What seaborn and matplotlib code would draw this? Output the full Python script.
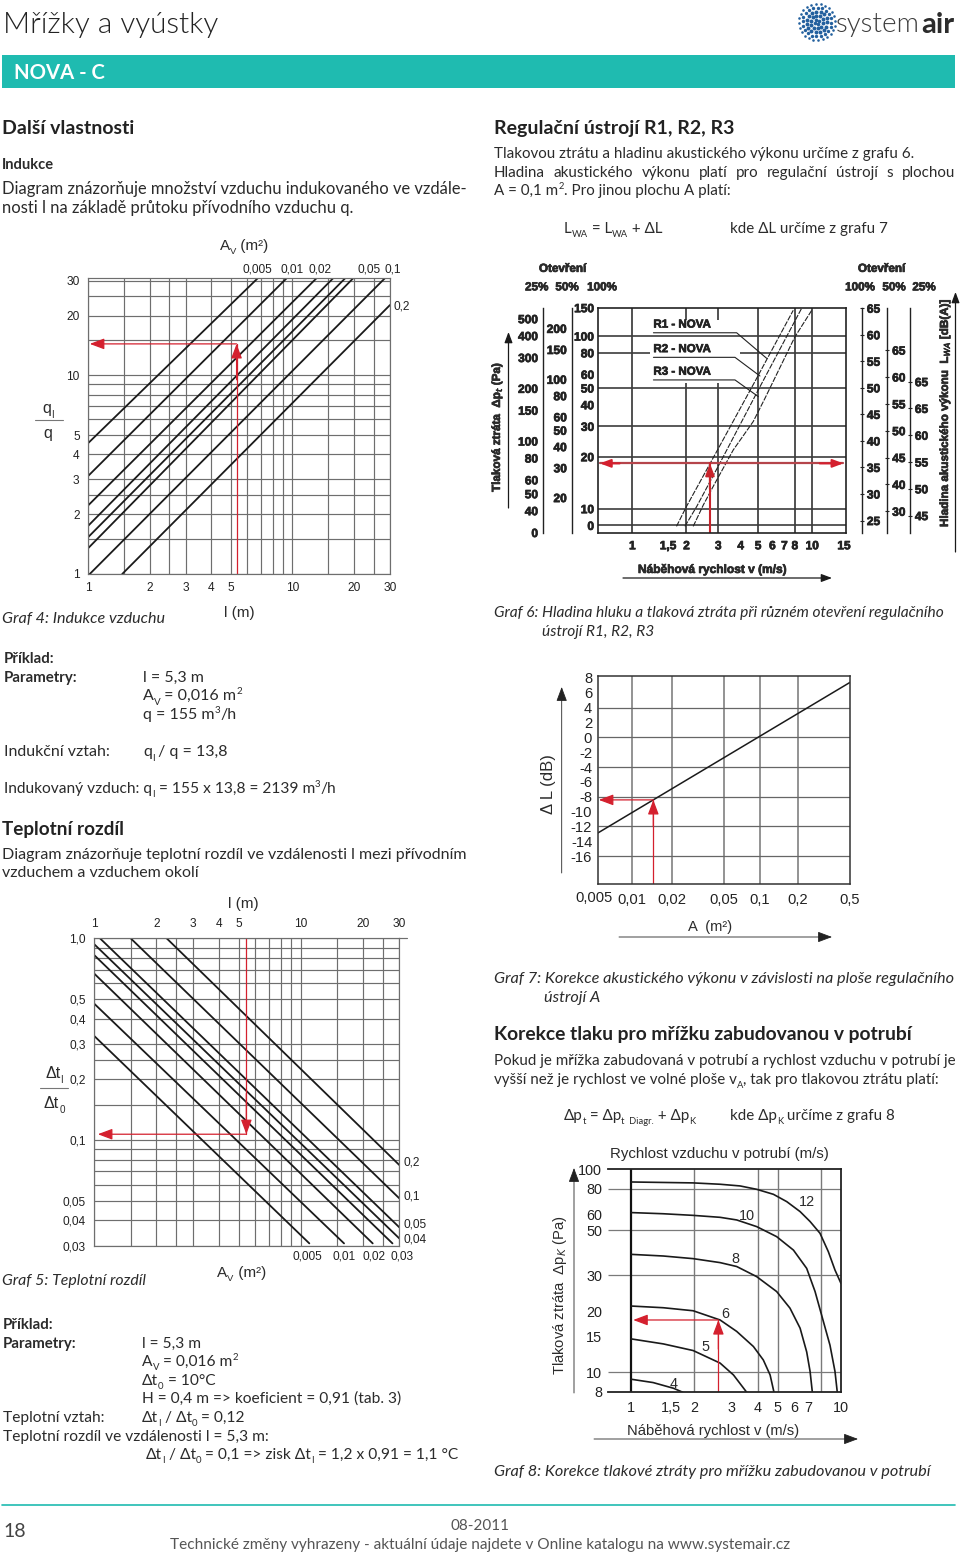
import numpy as np
import pandas as pd
import matplotlib
matplotlib.use("Agg")
import matplotlib.pyplot as plt
from matplotlib.ticker import NullFormatter, FixedLocator
from matplotlib.patches import Rectangle
import matplotlib.patheffects as pe
import seaborn as sns

sns.set_theme(style="white")
plt.rcParams["font.family"] = ["Lato", "DejaVu Sans"]
CH = ["Liberation Sans", "DejaVu Sans"]
RED = "#d4202e"
TEAL = "#1fbbb0"
TXT = "#2b2b2b"

# ---------- Graf 4 ----------
g4_x_grid = [1, 1.5, 2, 2.5, 3, 4, 5, 6, 7, 8, 9, 10, 15, 20, 25, 30]
g4_y_grid = [1, 1.5, 2, 2.5, 3, 4, 5, 6, 7, 8, 9, 10, 15, 20, 25, 30]
g4_ticks = [1, 2, 3, 4, 5, 10, 20, 30]
g4_lines = {
    "0,005": ([1, 6.76], [4.55, 30.8]),
    "0,01": ([1, 9.36], [3.11, 30.8]),
    "0,02": ([1, 13.1], [2.21, 30.8]),
    "0,03": ([1, 15.8], [1.745, 30.8]),
    "0,04": ([1, 18.1], [1.53, 30.8]),
    "0,05": ([1, 19.8], [1.346, 30.8]),
    "0,1": ([1.02, 28.3], [1, 30.8]),
    "0,2": ([1.47, 30], [1, 22.6]),
}
g4_read_x, g4_read_y = 5.33, 14.4

# ---------- Graf 5 ----------
g5_x_grid = [1, 1.5, 2, 2.5, 3, 4, 5, 6, 7, 8, 9, 10, 15, 20, 25, 30]
g5_y_grid = [1, .9, .8, .7, .6, .5, .4, .3, .25, .2, .15, .1, .09, .08, .07, .06, .05, .04, .03]
g5_x_ticks = [1, 2, 3, 4, 5, 10, 20, 30]
g5_y_ticks = [1, .5, .4, .3, .2, .1, .05, .04, .03]
g5_y_labels = ["1,0", "0,5", "0,4", "0,3", "0,2", "0,1", "0,05", "0,04", "0,03"]
g5_lines = {
    "0,005": ([1, 11.0], [.328, .0308]),
    "0,01": ([1, 16.2], [.474, .0308]),
    "0,02": ([1, 22.3], [.668, .0308]),
    "0,03": ([1, 27.8], [.825, .0308]),
    "0,04": ([1, 30], [.934, .0326]),
    "0,05": ([1.065, 30], [1, .037]),
    "0,1": ([1.5, 30], [1, .0515]),
    "0,2": ([2.24, 30], [1, .0753]),
}
g5_read_x, g5_read_y = 5.45, .107

# ---------- Graf 6 ----------
g6_x_ticks = [1, 1.58, 2, 3, 4, 5, 6, 7, 8, 10, 15]
g6_x_labels = ["1", "1,5", "2", "3", "4", "5", "6", "7", "8", "10", "15"]
g6_main_ticks = [146, 100, 80, 60, 50, 40, 30, 20, 10, 8]
g6_main_labels = ["150", "100", "80", "60", "50", "40", "30", "20", "10", "0"]
g6_s1_ticks = [500, 400, 300, 200, 150, 100, 80, 60, 50, 40, 30]
g6_s1_labels = ["500", "400", "300", "200", "150", "100", "80", "60", "50", "40", "0"]
g6_s2_ticks = [200, 150, 100, 80, 60, 50, 40, 30, 20]
g6_r1_ticks = [65, 60, 55, 50, 45, 40, 35, 30, 25]
g6_r2_ticks = [65, 60, 55, 50, 45, 40, 35]
g6_r2_labels = ["65", "60", "55", "50", "45", "40", "30"]
g6_r3_ticks = [70, 65, 60, 55, 50, 45]
g6_r3_labels = ["65", "65", "60", "55", "50", "45"]
g6_curves = {
    "R1": ([1.76, 2.00, 2.94, 4.80, 7.84], [7.9, 10.3, 21.4, 54.5, 141]),
    "R2": ([1.96, 2.28, 3.07, 5.01, 8.72], [7.9, 10.3, 18.4, 48.7, 144.6]),
    "R3": ([2.18, 2.48, 2.82, 3.64, 4.70, 5.46, 8.01, 10], [7.9, 10.5, 13.5, 21.9, 32, 43.6, 99, 142.6]),
}
g6_leaders = {
    "R1 - NOVA": ([1.31, 3.80, 5.58], [104.5, 104.5, 74.3]),
    "R2 - NOVA": ([1.31, 3.72, 5.12], [75.3, 75.3, 58.7]),
    "R3 - NOVA": ([1.31, 3.72, 5.01], [55.7, 55.7, 44.6]),
}
g6_read_x, g6_read_y = 2.70, 18.3

# ---------- Graf 7 ----------
g7_x_grid = [.005, .0093, .0193, .05, .0967, .192, .5]
g7_x_labels = ["", "0,01", "0,02", "0,05", "0,1", "0,2", "0,5"]
g7_y_ticks = [8, 6, 4, 2, 0, -2, -4, -6, -8, -10, -12, -14, -16]
g7_y_grid = [4, 0, -4, -8, -12, -16]
g7_line_x = [.005, .5]
g7_line_y = [-12.9, 7.4]
g7_read_x, g7_read_y = .0138, -8.43

# ---------- Graf 8 ----------
g8_x_ticks = [1, 1.55, 2, 3, 4, 5, 6, 7, 10]
g8_x_labels = ["1", "1,5", "2", "3", "4", "5", "6", "7", "10"]
g8_y_ticks = [100, 80, 60, 50, 30, 20, 15, 10, 8]
g8_x_grid = [2, 4, 5, 8]
g8_y_grid = [80, 50, 30, 10]
g8_curves = {
    "12": ([1, 1.97, 2.65, 3.30, 3.96, 4.76, 5.51, 6.38, 7.12, 7.94, 8.70, 9.36, 10],
           [86.6, 85.7, 84.4, 82.8, 79.7, 75.3, 69.3, 61.9, 55.3, 48.4, 39.3, 31.9, 27.4]),
    "10": ([1, 1.42, 1.97, 2.65, 3.18, 3.96, 4.93, 5.93, 6.86, 7.52, 8.24, 8.86, 9.36, 9.60],
           [61.2, 60.4, 59.3, 58.0, 56.3, 52.2, 46.6, 40.0, 32.5, 25.0, 17.8, 13.6, 10.1, 7.97]),
    "8": ([1, 1.42, 1.97, 2.65, 3.18, 3.96, 4.93, 5.71, 6.38, 6.86, 7.12, 7.30],
          [38.1, 37.4, 36.3, 34.7, 33.2, 29.6, 25.0, 20.7, 16.5, 12.6, 10.1, 7.97]),
    "6": ([1, 1.42, 1.97, 2.65, 3.18, 3.82, 4.26, 4.59, 4.79],
          [21.2, 20.8, 20.1, 18.1, 15.9, 13.4, 11.5, 9.70, 7.97]),
    "5": ([1, 1.42, 1.97, 2.65, 3.07, 3.55], [14.6, 13.8, 12.8, 11.1, 9.70, 7.97]),
    "4": ([1, 1.27, 1.59, 1.76], [9.24, 8.9, 8.34, 7.97]),
}
g8_read_x, g8_read_y = 2.6, 18.1

W, H = 960, 1553
fig = plt.figure(figsize=(W / 100, H / 100), dpi=100, facecolor="white")
bg = fig.add_axes([0, 0, 1, 1], zorder=0)
bg.set_xlim(0, W)
bg.set_ylim(H, 0)
bg.axis("off")
renderer = fig.canvas.get_renderer()
HEAVY = [pe.withStroke(linewidth=.5, foreground="#222222")]


def mk(l, t, r, b):
    a = fig.add_axes([l / W, 1 - b / H, (r - l) / W, (b - t) / H], zorder=2)
    a.patch.set_alpha(0)
    return a


def T(x, y, s, size=10, color=TXT, ha="left", family=None, **kw):
    return bg.text(x, y + size * 100 / 72 * .33, s, fontsize=size, color=color, ha=ha, va="baseline",
                   family=family or ["Lato", "DejaVu Sans"], **kw)


def rich(x, y, parts, size=10, color=TXT, family=None, **kw):
    for p in parts:
        s, mode = (p, None) if isinstance(p, str) else p
        fs = size * .62 if mode else size
        base = y + size * 100 / 72 * .33
        if mode == "sub":
            base += size * .38
        if mode == "sup":
            base -= size * .55
        t = bg.text(x, base, s, fontsize=fs, color=color, ha="left", va="baseline",
                    family=family or ["Lato", "DejaVu Sans"], **kw)
        x += t.get_window_extent(renderer).width


def justified(x0, x1, y, s, size=10, **kw):
    words = s.split(" ")
    arts = [T(x0, y, w, size, **kw) for w in words]
    ws = [a.get_window_extent(renderer).width for a in arts]
    gap = (x1 - x0 - sum(ws)) / (len(words) - 1)
    x = x0
    for a, w in zip(arts, ws):
        a.set_x(x)
        x += w + gap


def arrow(a, start, end, color="k", lw=1.0, ms=9):
    a.annotate("", xy=end, xytext=start, annotation_clip=False,
               arrowprops=dict(arrowstyle="-|>,head_length=0.8,head_width=0.3", color=color, lw=lw,
                               mutation_scale=ms, shrinkA=0, shrinkB=0))


def draw(a, x, y, color="k", lw=1.3, **kw):
    sns.lineplot(x=x, y=y, ax=a, color=color, linewidth=lw, estimator=None, sort=False, legend=False, **kw)
    a.set_xlabel("")
    a.set_ylabel("")


def log_axes(a, xlim, ylim):
    a.set_xscale("log")
    a.set_yscale("log")
    a.set_xlim(*xlim)
    a.set_ylim(*ylim)
    a.xaxis.set_minor_formatter(NullFormatter())
    a.yaxis.set_minor_formatter(NullFormatter())


def gridded(a, xg, yg, color="#6e6e6e", lw=.85):
    a.xaxis.set_minor_locator(FixedLocator(xg))
    a.yaxis.set_minor_locator(FixedLocator(yg))
    a.grid(True, which="both", color=color, linewidth=lw)
    a.tick_params(which="minor", length=0)
    a.set_axisbelow(True)


# ========== page furniture ==========
B = 10.9   # right column body size
L = 11.5   # left column body size
T(3, 23, "Mřížky a vyústky", 21.4, weight=300, color="#222222")
logo_r = [2.5, 6.5, 10.5, 14.5, 18]
logo_n = [4, 10, 15, 20, 24]
logo_s = [7, 8, 8, 6, 3.5]
for r, n, s_ in zip(logo_r, logo_n, logo_s):
    ang = np.linspace(0, 2 * np.pi, n, endpoint=False) + r
    bg.scatter(817 + r * np.cos(ang), 22 + r * np.sin(ang), s=s_, color="#23609e", linewidths=0)
rich(836, 23, ["system"], 20, color="#3c3c3c", weight=300)
T(921, 23, "air", 21, color="#2c2c2c", weight="bold")

bg.add_patch(Rectangle((2, 55), 953, 33, color=TEAL, lw=0))
T(14, 72, "NOVA - C", 14.6, color="white", weight="bold")

T(2, 128, "Další vlastnosti", 14, weight="bold", color="#222222")
T(2, 164, "Indukce", 10.5, weight="bold")
T(2, 189, "Diagram znázorňuje množství vzduchu indukovaného ve vzdále-", 11.9)
T(2, 208, "nosti l na základě průtoku přívodního vzduchu q.", 11.9)

T(494, 128, "Regulační ústrojí R1, R2, R3", 14, weight="bold", color="#222222")
T(494, 153, "Tlakovou ztrátu a hladinu akustického výkonu určíme z grafu 6.", B)
justified(494, 955, 172, "Hladina akustického výkonu platí pro regulační ústrojí s plochou", B)
rich(494, 190, ["A = 0,1 m", ("2", "sup"), ". Pro jinou plochu A platí:"], B)
rich(564, 228, ["L", ("WA", "sub"), " = L", ("WA", "sub"), " + ΔL"], B)
T(730, 228, "kde ΔL určíme z grafu 7", B)

T(2, 618, "Graf 4: Indukce vzduchu", 11.6, style="italic")
T(494, 612, "Graf 6: Hladina hluku a tlaková ztráta při různém otevření regulačního", 11.2, style="italic")
T(542, 631, "ústrojí R1, R2, R3", 11.2, style="italic")

T(4, 658, "Příklad:", 10.8, weight="bold")
T(4, 677, "Parametry:", 10.8, weight="bold")
T(143, 677, "l = 5,3 m", L)
rich(143, 695, ["A", ("V", "sub"), " = 0,016 m", ("2", "sup")], L)
rich(143, 714, ["q = 155 m", ("3", "sup"), "/h"], L)
T(4, 751, "Indukční vztah:", L)
rich(143, 751, ["q", ("I", "sub"), " / q = 13,8"], L)
rich(4, 788, ["Indukovaný vzduch: q", ("I", "sub"), " = 155 x 13,8 = 2139 m", ("3", "sup"), "/h"], 11.2)

T(2, 829, "Teplotní rozdíl", 13.6, weight="bold", color="#222222")
T(2, 854, "Diagram znázorňuje teplotní rozdíl ve vzdálenosti l mezi přívodním", L)
T(2, 872, "vzduchem a vzduchem okolí", L)
T(2, 1280, "Graf 5: Teplotní rozdíl", 11.4, style="italic")

T(3, 1324, "Příklad:", 10.8, weight="bold")
T(3, 1343, "Parametry:", 10.8, weight="bold")
T(142, 1343, "l = 5,3 m", 11.2)
rich(142, 1361, ["A", ("V", "sub"), " = 0,016 m", ("2", "sup")], 11.2)
rich(142, 1380, ["Δt", ("0", "sub"), " = 10°C"], 11.2)
T(142, 1398, "H = 0,4 m => koeficient = 0,91 (tab. 3)", 11.2)
T(3, 1417, "Teplotní vztah:", 11.2)
rich(142, 1417, ["Δt", ("I", "sub"), " / Δt", ("0", "sub"), " = 0,12"], 11.2)
T(3, 1436, "Teplotní rozdíl ve vzdálenosti l = 5,3 m:", 11.2)
rich(146, 1454, ["Δt", ("I", "sub"), " / Δt", ("0", "sub"), " = 0,1 => zisk Δt", ("I", "sub"), " = 1,2 x 0,91 = 1,1 °C"], 11.2)

T(494, 978, "Graf 7: Korekce akustického výkonu v závislosti na ploše regulačního", 11.7, style="italic")
T(544, 997, "ústrojí A", 11.7, style="italic")
T(494, 1034, "Korekce tlaku pro mřížku zabudovanou v potrubí", 13.9, weight="bold", color="#222222")
T(494, 1060, "Pokud je mřížka zabudovaná v potrubí a rychlost vzduchu v potrubí je", B)
rich(494, 1079, ["vyšší než je rychlost ve volné ploše v", ("A", "sub"), ", tak pro tlakovou ztrátu platí:"], B)
rich(564, 1115, ["Δp", ("t", "sub"), " = Δp", ("t  Diagr.", "sub"), " + Δp", ("K", "sub")], B)
rich(730, 1115, ["kde Δp", ("K", "sub"), " určíme z grafu 8"], B)
T(494, 1471, "Graf 8: Korekce tlakové ztráty pro mřížku zabudovanou v potrubí", 11.7, style="italic")

bg.plot([2, 955], [1505, 1505], color=TEAL, lw=1.2)
T(3, 1531, "18", 14, color="#444444")
T(480, 1525, "08-2011", 11, ha="center", color="#555555")
T(480, 1544, "Technické změny vyhrazeny - aktuální údaje najdete v Online katalogu na www.systemair.cz", 11.1,
  ha="center", color="#555555")

# ========== Graf 4 ==========
sz = 8.6
a4 = mk(88, 278.3, 390, 574)
log_axes(a4, (1, 30), (1, 30.8))
a4.set_xticks(g4_ticks, [str(v) for v in g4_ticks], family=CH, fontsize=sz)
a4.set_yticks(g4_ticks, [str(v) for v in g4_ticks], family=CH, fontsize=sz)
gridded(a4, g4_x_grid, g4_y_grid)
a4.tick_params(which="major", length=0, pad=6, colors="#222222")
for s in a4.spines.values():
    s.set_color("#6e6e6e")
    s.set_linewidth(.85)
for k, (x, y) in g4_lines.items():
    draw(a4, x, y)
draw(a4, [g4_read_x, g4_read_x], [1, g4_read_y], color=RED, lw=.9)
arrow(a4, (g4_read_x, 9.5), (g4_read_x, g4_read_y), RED, 0.9, 11)
arrow(a4, (g4_read_x, g4_read_y), (1.02, g4_read_y), RED, 0.9, 11)

for x, s in zip([257.7, 292, 320, 369, 393], ["0,005", "0,01", "0,02", "0,05", "0,1"]):
    T(x, 268.5, s, sz, ha="center", family=CH, color="#222222")
T(393, 306, "0,2", sz, family=CH, color="#222222")
rich(220, 245, ["A", ("V", "sub"), " (m²)"], 11, family=CH)
T(239, 612, "l (m)", 11, ha="center", family=CH)
rich(42, 408, ["q", ("I", "sub")], 11.5, family=CH)
bg.plot([35, 63], [420, 420], color="#777777", lw=.8)
T(48, 433, "q", 11.5, ha="center", family=CH)

# ========== Graf 5 ==========
a5 = mk(94.3, 938.3, 399.3, 1245.7)
log_axes(a5, (1, 30), (.0308, 1))
a5.xaxis.tick_top()
a5.set_xticks(g5_x_ticks, [str(v) for v in g5_x_ticks], family=CH, fontsize=sz)
a5.set_yticks(g5_y_ticks, g5_y_labels, family=CH, fontsize=sz)
gridded(a5, g5_x_grid, g5_y_grid)
a5.tick_params(which="major", length=0, pad=6, colors="#222222")
for s in a5.spines.values():
    s.set_color("#6e6e6e")
    s.set_linewidth(.85)
for k, (x, y) in g5_lines.items():
    draw(a5, x, y)
draw(a5, [g5_read_x, g5_read_x], [1, g5_read_y], color=RED, lw=.9)
arrow(a5, (g5_read_x, .17), (g5_read_x, g5_read_y), RED, 0.9, 11)
arrow(a5, (g5_read_x, g5_read_y), (1.04, g5_read_y), RED, 0.9, 11)
bg.plot([399, 407], [938.3, 938.3], color="#6e6e6e", lw=.85)
for x, s in zip([307.7, 344, 374, 402], ["0,005", "0,01", "0,02", "0,03"]):
    T(x, 1256, s, sz, ha="center", family=CH, color="#222222")
for y, s in zip([1162, 1196, 1224, 1239], ["0,2", "0,1", "0,05", "0,04"]):
    T(404, y, s, sz, family=CH, color="#222222")
T(243, 903, "l (m)", 11, ha="center", family=CH)
rich(217, 1272, ["A", ("V", "sub"), " (m²)"], 11, family=CH)
rich(45, 1073, ["Δt", ("I", "sub")], 11.5, family=CH)
bg.plot([40, 68], [1087.7, 1087.7], color="#777777", lw=.8)
rich(44, 1103, ["Δt", ("0", "sub")], 11.5, family=CH)

# ========== Graf 6 ==========
t6, b6 = 307.7, 533.3
DK = "#222222"
a6 = mk(598.3, t6, 846, b6)
log_axes(a6, (.647, 15.4), (7.2, 146))
a6.set_xticks(g6_x_ticks, g6_x_labels, family=CH, fontsize=8.6, fontweight="bold")
a6.set_yticks(g6_main_ticks, g6_main_labels, family=CH, fontsize=8.6, fontweight="bold")
a6.xaxis.set_minor_locator(FixedLocator([]))
a6.yaxis.set_minor_locator(FixedLocator([90, 70, 15, 9]))
a6.tick_params(which="major", axis="x", length=0, pad=5, colors=DK)
a6.tick_params(which="major", axis="y", length=0, pad=3, colors=DK)
a6.tick_params(which="minor", axis="y", length=2, width=.8, color=DK)
for lab in a6.get_xticklabels() + a6.get_yticklabels():
    lab.set_path_effects(HEAVY)
a6.grid(False)
for s in a6.spines.values():
    s.set_color(DK)
    s.set_linewidth(1.2)
a6.vlines([1, 5, 8, 10], 7.2, 146, color=DK, lw=1.1)
a6.vlines([2, 3], 7.2, 53.3, color=DK, lw=1.1)
a6.vlines([2, 3], 124, 146, color=DK, lw=1.1)
a6.hlines([100, 50, 30, 20, 10, 8], .647, 15.4, color="#3c3c3c", lw=1.2)
a6.hlines([80], .647, 1.25, color="#3c3c3c", lw=1.2)
a6.hlines([80], 3.96, 15.4, color="#3c3c3c", lw=1.2)
for k, (x, y) in g6_curves.items():
    draw(a6, x, y, color=DK, lw=.8, linestyle=(0, (5, 1.2)))
for k, (x, y) in g6_leaders.items():
    draw(a6, x, y, color=DK, lw=.8)
    a6.text(x[0], y[0] * 1.03, k, family=CH, fontsize=8.3, fontweight="bold", color=DK, va="bottom",
            path_effects=HEAVY)
draw(a6, [.66, 14.9], [g6_read_y, g6_read_y], color="#b5454b", lw=1.6)
draw(a6, [g6_read_x, g6_read_x], [7.2, g6_read_y], color="#c8242c", lw=1.5)
arrow(a6, (g6_read_x, 13), (g6_read_x, g6_read_y), "#c8242c", 1.5, 9)
arrow(a6, (.85, g6_read_y), (.66, g6_read_y), "#d4202e", 1.5, 8)
arrow(a6, (11, g6_read_y), (14.9, g6_read_y), "#d4202e", 1.5, 8)


def scale(x, ticks, labels, ylim, log=False, right=False):
    s = mk(x, t6, x + 1, b6)
    if log:
        s.set_yscale("log")
    s.set_ylim(*ylim)
    s.set_xticks([])
    s.yaxis.set_minor_formatter(NullFormatter())
    s.yaxis.set_minor_locator(FixedLocator([]))
    for k, sp in s.spines.items():
        sp.set_visible(k == ("right" if right else "left"))
        sp.set_color(DK)
        sp.set_linewidth(1.0)
    if right:
        s.yaxis.tick_right()
    s.set_yticks(ticks, labels, family=CH, fontsize=8.6, fontweight="bold")
    s.tick_params(axis="y", direction="inout", length=3, width=.8, pad=2, colors=DK)
    for lab in s.get_yticklabels():
        lab.set_path_effects(HEAVY)
    s.grid(False)


scale(543, g6_s1_ticks, g6_s1_labels, (29.7, 578), log=True)
scale(571.7, g6_s2_ticks, [str(v) for v in g6_s2_ticks], (12.3, 265), log=True)
scale(861, g6_r1_ticks, [str(v) for v in g6_r1_ticks], (22.6, 65.1), right=True)
scale(886.3, g6_r2_ticks, g6_r2_labels, (30.9, 72.9), right=True)
scale(909, g6_r3_ticks, g6_r3_labels, (41.7, 83.8), right=True)

for x, s in zip([562.7, 881.7], ["Otevření", "Otevření"]):
    T(x, 268, s, 8.4, ha="center", family=CH, weight="bold", path_effects=HEAVY)
for x, s in zip([536.7, 567, 602, 860, 894, 924], ["25%", "50%", "100%", "100%", "50%", "25%"]):
    T(x, 286.5, s, 8.4, ha="center", family=CH, weight="bold", path_effects=HEAVY)
T(712, 569, "Náběhová rychlost v (m/s)", 8.6, ha="center", family=CH, weight="bold", path_effects=HEAVY)
arrow(bg, (623, 578), (832, 578), "k", .9, 8)
arrow(bg, (508.5, 508), (508.5, 332), "k", .9, 8)
arrow(bg, (955.5, 552), (955.5, 292), "k", .9, 8)
bg.text(497, 427, "Tlaková ztráta  Δp$_{t}$ (Pa)", rotation=90, ha="center", va="center", fontsize=8.4,
        family=CH, weight="bold", color=TXT, path_effects=HEAVY)
bg.text(945, 413, "Hladina akustického výkonu  L$_{WA}$ [dB(A)]", rotation=90, ha="center", va="center",
        fontsize=8.4, family=CH, weight="bold", color=TXT, path_effects=HEAVY)

# ========== Graf 7 ==========
a7 = mk(597.7, 675.7, 850, 884.3)
a7.set_xscale("log")
a7.set_xlim(.005, .5)
a7.set_ylim(-19.8, 8.3)
a7.xaxis.set_minor_formatter(NullFormatter())
a7.set_xticks(g7_x_grid, g7_x_labels, family=CH, fontsize=10.6)
a7.xaxis.set_minor_locator(FixedLocator([]))
a7.set_yticks(g7_y_ticks, [str(v) for v in g7_y_ticks], family=CH, fontsize=10.6)
a7.tick_params(length=0, pad=4, colors="#222222")
a7.tick_params(axis="x", pad=6)
a7.grid(False)
a7.vlines(g7_x_grid[1:-1], -19.8, 8.3, color="#8a8a8a", lw=1.3, zorder=1)
a7.hlines(g7_y_grid, .005, .5, color="#666666", lw=.9, zorder=1)
for s in a7.spines.values():
    s.set_color("#333333")
    s.set_linewidth(1.1)
draw(a7, g7_line_x, g7_line_y, lw=1.1)
draw(a7, [g7_read_x, g7_read_x], [-19.8, g7_read_y], color=RED, lw=.9)
arrow(a7, (g7_read_x, -12), (g7_read_x, g7_read_y), RED, .9, 11)
arrow(a7, (g7_read_x, g7_read_y), (.0051, g7_read_y), RED, .9, 11)
T(594, 897, "0,005", 10.6, ha="center", family=CH, color="#222222")
bg.text(549, 784, "Δ L (dB)", rotation=90, ha="center", va="center", fontsize=12, family=CH, color=TXT)
arrow(bg, (561.7, 873), (561.7, 687), "#222222", .6, 11)
T(710, 926, "A  (m²)", 10.6, ha="center", family=CH)
arrow(bg, (619, 937), (832, 937), "#222222", .6, 11)

# ========== Graf 8 ==========
a8 = mk(607.7, 1169.3, 841, 1392.3)
log_axes(a8, (.771, 10), (7.97, 100))
a8.set_xticks(g8_x_ticks, g8_x_labels, family=CH, fontsize=10.4)
a8.set_yticks(g8_y_ticks, [str(v) for v in g8_y_ticks], family=CH, fontsize=10.4)
a8.xaxis.set_minor_locator(FixedLocator([]))
a8.yaxis.set_minor_locator(FixedLocator([90, 70, 40, 9]))
a8.tick_params(which="major", length=0, colors="#222222")
a8.tick_params(which="major", axis="y", pad=4)
a8.tick_params(which="major", axis="x", pad=6)
a8.tick_params(which="minor", axis="y", length=2, width=.6, color="#777777")
a8.grid(False)
a8.vlines(g8_x_grid, 7.97, 100, color="#7a7a7a", lw=1.0, zorder=1)
a8.hlines(g8_y_grid, .771, 10, color="#7a7a7a", lw=.9, zorder=1)
a8.vlines([1], 7.97, 100, color="#111111", lw=1.6, zorder=1)
a8.spines["left"].set_visible(False)
for k in ("top", "bottom", "right"):
    a8.spines[k].set_color("#222222")
    a8.spines[k].set_linewidth(1.3)
for k, (x, y) in g8_curves.items():
    draw(a8, x, y, lw=1.2)
draw(a8, [g8_read_x, g8_read_x], [7.97, g8_read_y], color=RED, lw=.9)
arrow(a8, (g8_read_x, 13), (g8_read_x, g8_read_y), RED, .9, 11)
arrow(a8, (g8_read_x, g8_read_y), (1.02, g8_read_y), RED, .9, 11)
for (x, y), s in zip([(807, 1201), (747, 1215), (735, 1258.5), (725.5, 1313), (705.5, 1346), (674, 1383)],
                     ["12", "10", "8", "6", "5", "4"]):
    T(x, y, s, 10.4, ha="center", family=CH)
T(719, 1153, "Rychlost vzduchu v potrubí (m/s)", 10.8, ha="center", family=CH)
T(713, 1430, "Náběhová rychlost v (m/s)", 10.6, ha="center", family=CH)
bg.text(560, 1295, "Tlaková ztráta  Δp$_{K}$ (Pa)", rotation=90, ha="center", va="center", fontsize=10.6,
        family=CH, color=TXT)
arrow(bg, (574, 1393), (574, 1168), "#222222", .6, 11)
arrow(bg, (594, 1439), (858, 1439), "#222222", .6, 11)

fig.savefig("out.png", dpi=100, facecolor="white")
